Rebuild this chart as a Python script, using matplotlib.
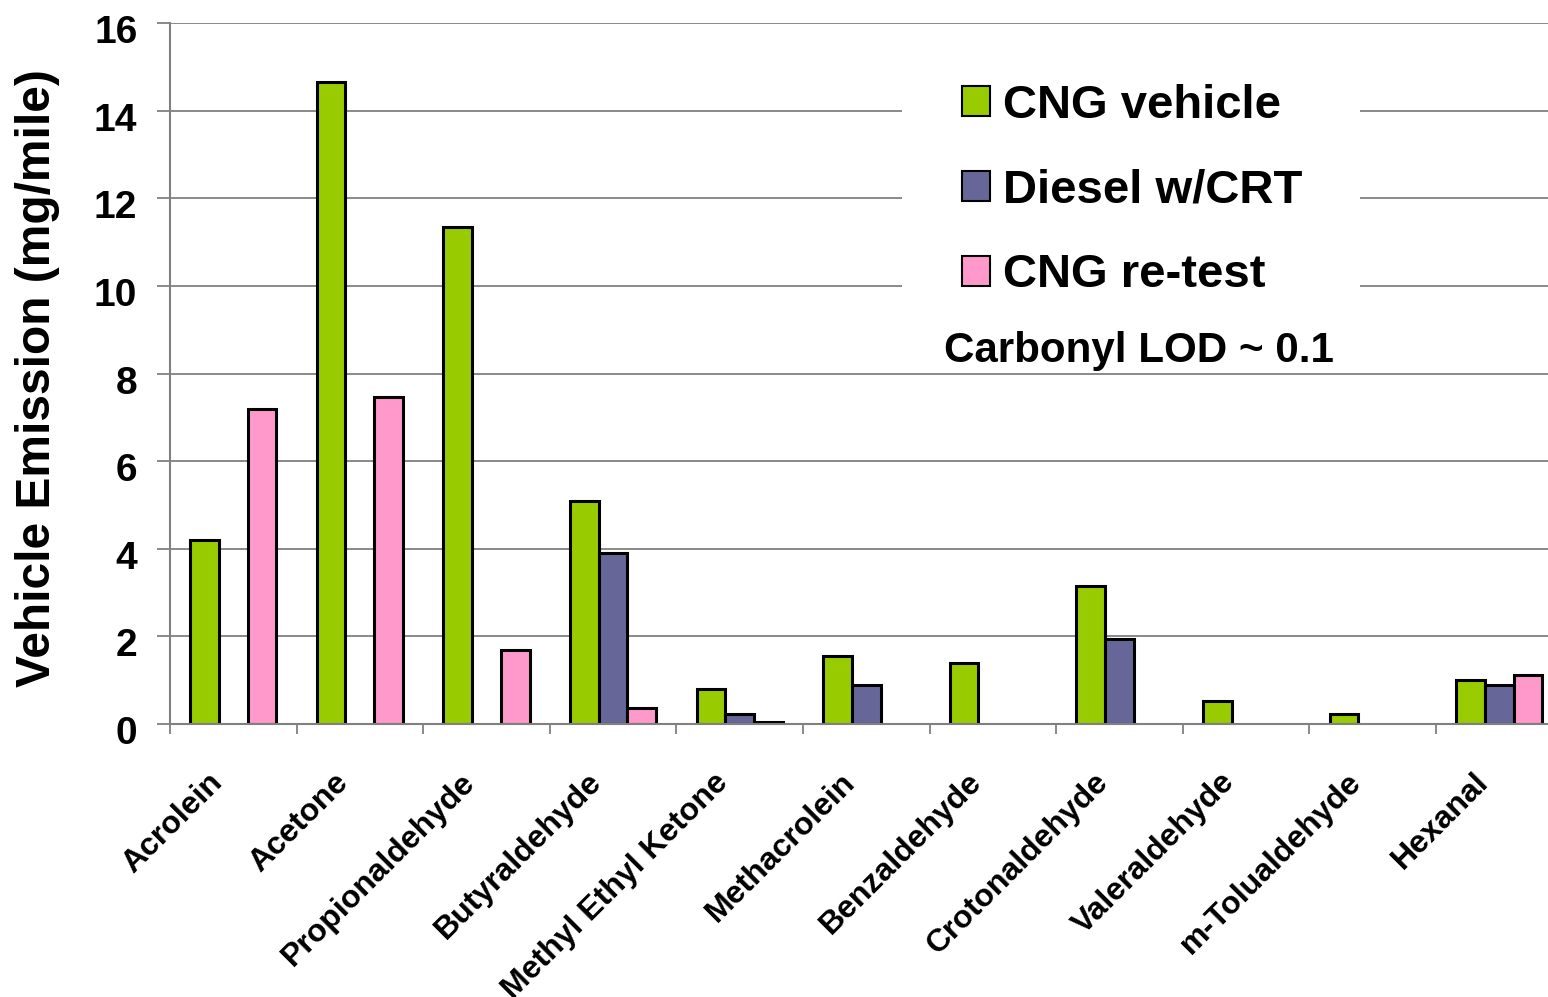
import matplotlib
matplotlib.use('Agg')
import matplotlib.pyplot as plt
import matplotlib.transforms as mtransforms
from matplotlib.patches import Rectangle, Patch
import numpy as np

plt.rcParams['font.family'] = ['Liberation Sans', 'DejaVu Sans']
plt.rcParams['font.weight'] = 'bold'

# Data (mg/mile), nan = no bar
compounds = ['Acrolein', 'Acetone', 'Propionaldehyde', 'Butyraldehyde',
             'Methyl Ethyl Ketone', 'Methacrolein', 'Benzaldehyde',
             'Crotonaldehyde', 'Valeraldehyde', 'm-Tolualdehyde', 'Hexanal']
nan = np.nan
cng_vehicle = [4.2, 14.65, 11.35, 5.1, 0.8, 1.55, 1.4, 3.15, 0.52, 0.23, 1.0]
diesel_crt = [nan, nan, nan, 3.9, 0.23, 0.9, nan, 1.95, nan, nan, 0.9]
cng_retest = [7.2, 7.47, 1.7, 0.37, 0.05, nan, nan, nan, nan, nan, 1.12]

series_names = ['CNG vehicle', 'Diesel w/CRT', 'CNG re-test']
series_colors = ['#99CC00', '#666699', '#FF99CC']

fig = plt.figure(figsize=(15.48, 9.97), dpi=100)
ax = fig.add_axes([0.1098, 0.2738, 0.8996, 0.7031])

x = np.arange(len(compounds))
w = 0.227
for i, (vals, col) in enumerate(zip([cng_vehicle, diesel_crt, cng_retest], series_colors)):
    ax.bar(x + (i - 1) * w, vals, width=w, color=col, edgecolor='black',
           linewidth=2.2, zorder=2)

ax.set_xlim(-0.5, 10.5)
ax.set_ylim(0, 16)
ax.set_yticks(np.arange(0, 17, 2))
ax.yaxis.grid(True, color='#808080', linewidth=1.3)
ax.set_axisbelow(True)

for s in ['top', 'right']:
    ax.spines[s].set_visible(False)
for s in ['left', 'bottom']:
    ax.spines[s].set_color('#808080')
    ax.spines[s].set_linewidth(1.5)

# y axis
ax.tick_params(axis='y', direction='out', length=9.5, width=1.3, color='#808080',
               labelsize=28, pad=14)
yshift = mtransforms.ScaledTranslation(0, -0.06, fig.dpi_scale_trans)
for lab in ax.get_yticklabels():
    lab.set_transform(lab.get_transform() + yshift)
ax.set_ylabel('Vehicle Emission (mg/mile)', fontsize=34.5, fontweight='bold')
ax.yaxis.label.set_va('center')
ax.yaxis.set_label_coords(-0.0948, 0.494)

# x axis: labels at centers, tick marks at boundaries
ax.set_xticks(x)
ax.set_xticklabels(compounds, rotation=45, ha='right', fontsize=23)
ax.set_xticks(np.arange(-0.5, 11, 1), minor=True)
ax.tick_params(axis='x', which='major', length=0, pad=31)
ax.tick_params(axis='x', which='minor', direction='out', length=7, width=1.3, color='#808080')
shift = mtransforms.ScaledTranslation(-0.05, 0, fig.dpi_scale_trans)
for lab in ax.get_xticklabels():
    lab.set_transform(lab.get_transform() + shift)

# legend area
ax.add_patch(Rectangle((0.5256, 0.505), 0.3289, 0.4707, transform=ax.transAxes,
                       facecolor='white', edgecolor='none', zorder=1))
handles = [Patch(facecolor=c, edgecolor='black', linewidth=1.5) for c in series_colors]
ax.legend(handles, series_names, loc='upper left', bbox_to_anchor=(0.5687, 0.913),
          frameon=False, prop={'size': 34, 'weight': 'bold'}, handlelength=0.6,
          handleheight=0.6, handletextpad=0.28, labelspacing=0.86, borderpad=0,
          borderaxespad=0)
ax.text(0.5559, 0.532, 'Carbonyl LOD ~ 0.1', transform=ax.transAxes, fontsize=30.3,
        ha='left', va='center', zorder=3)

fig.savefig('out.png', dpi=100)
